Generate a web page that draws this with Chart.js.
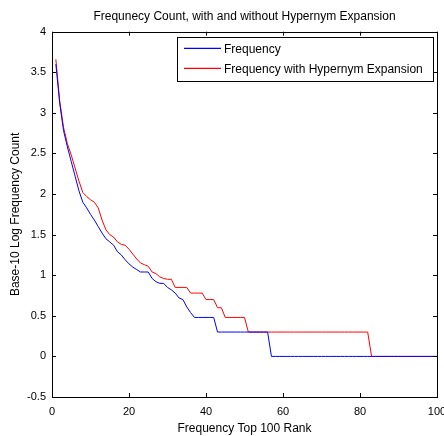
<!DOCTYPE html>
<html>
<head>
<meta charset="utf-8">
<script src="https://cdn.jsdelivr.net/npm/chart.js@4"></script>
<style>
  body { margin: 0; background: #fff; }
  canvas { display: block; }
</style>
</head>
<body>
<canvas id="chart" width="444" height="436"></canvas>
<script>
const chart_title = 'Frequnecy Count, with and without Hypernym Expansion';
const x_label = 'Frequency Top 100 Rank';
const y_label = 'Base-10 Log Frequency Count';
const series_names = ['Frequency', 'Frequency with Hypernym Expansion'];
const series_colors = ['#0000ff', '#ff0000'];
const x_ticks = [0, 20, 40, 60, 80, 100];
const y_ticks = [-0.5, 0, 0.5, 1, 1.5, 2, 2.5, 3, 3.5, 4];

// rank 1..100
const ranks = Array.from({ length: 100 }, (_, i) => i + 1);

const frequency = [
    3.60, 3.12, 2.78, 2.58, 2.40, 2.22, 2.04, 1.90, 1.83, 1.75, 1.68, 1.60, 1.52,
    1.45, 1.41, 1.37, 1.29, 1.25, 1.19, 1.14, 1.10, 1.07, 1.04, 1.04, 1.04,
    0.96, 0.92, 0.90, 0.90, 0.85, 0.82, 0.78, 0.72, 0.70, 0.61, 0.54, 0.48,
    0.48, 0.48, 0.48, 0.48, 0.48,
    0.30, 0.30, 0.30, 0.30, 0.30, 0.30, 0.30, 0.30, 0.30, 0.30, 0.30, 0.30, 0.30, 0.30,
    0, 0, 0, 0, 0, 0, 0, 0, 0, 0, 0, 0, 0, 0, 0, 0, 0, 0, 0, 0, 0, 0,
    0, 0, 0, 0, 0, 0, 0, 0, 0, 0, 0, 0, 0, 0, 0, 0, 0, 0, 0, 0, 0, 0
];

const frequency_hypernym = [
    3.66, 3.15, 2.82, 2.62, 2.48, 2.32, 2.16, 2.02, 1.97, 1.93, 1.90, 1.83, 1.68,
    1.56, 1.50, 1.47, 1.41, 1.38, 1.37, 1.32, 1.26, 1.20, 1.15, 1.13, 1.11,
    1.04, 1.02, 0.98, 0.96, 0.95, 0.95,
    0.85, 0.85, 0.85, 0.85,
    0.78, 0.78, 0.78, 0.78,
    0.70, 0.70, 0.70,
    0.60, 0.60,
    0.48, 0.48, 0.48, 0.48, 0.48, 0.48,
    0.30, 0.30, 0.30, 0.30, 0.30, 0.30, 0.30, 0.30, 0.30, 0.30, 0.30, 0.30, 0.30, 0.30, 0.30, 0.30,
    0.30, 0.30, 0.30, 0.30, 0.30, 0.30, 0.30, 0.30, 0.30, 0.30, 0.30, 0.30, 0.30, 0.30, 0.30, 0.30,
    0, 0, 0, 0, 0, 0, 0, 0, 0, 0, 0, 0, 0, 0, 0, 0, 0, 0
];

const font_family = '"Liberation Sans", Arial, Helvetica, sans-serif';

function to_points(values) {
    return values.map((v, i) => ({ x: ranks[i], y: v }));
}

// matlab style box with inward ticks + legend box top right
const matlab_axes = {
    id: 'matlab_axes',
    afterDraw(chart) {
        const ctx = chart.ctx;
        const area = chart.chartArea;
        const xs = chart.scales.x;
        const ys = chart.scales.y;
        const tick_len = 4;
        ctx.save();
        ctx.strokeStyle = '#000';
        ctx.lineWidth = 1;
        ctx.beginPath();
        x_ticks.forEach(v => {
            const px = Math.round(xs.getPixelForValue(v)) + 0.5;
            ctx.moveTo(px, area.bottom);
            ctx.lineTo(px, area.bottom - tick_len);
            ctx.moveTo(px, area.top);
            ctx.lineTo(px, area.top + tick_len);
        });
        y_ticks.forEach(v => {
            const py = Math.round(ys.getPixelForValue(v)) + 0.5;
            ctx.moveTo(area.left, py);
            ctx.lineTo(area.left + tick_len, py);
            ctx.moveTo(area.right, py);
            ctx.lineTo(area.right - tick_len, py);
        });
        ctx.stroke();
        ctx.strokeRect(Math.round(area.left) + 0.5, Math.round(area.top) + 0.5,
            Math.round(area.right - area.left), Math.round(area.bottom - area.top));

        // legend
        const box_l = 177.5, box_t = 37.5, box_w = 256, box_h = 44;
        ctx.fillStyle = '#fff';
        ctx.fillRect(box_l, box_t, box_w, box_h);
        ctx.strokeStyle = '#000';
        ctx.strokeRect(box_l, box_t, box_w, box_h);
        ctx.font = '12px ' + font_family;
        ctx.textBaseline = 'middle';
        ctx.textAlign = 'left';
        series_names.forEach((name, i) => {
            const y = 48.3 + i * 20;
            ctx.strokeStyle = series_colors[i];
            ctx.lineWidth = 1.2;
            ctx.beginPath();
            ctx.moveTo(184, y);
            ctx.lineTo(221, y);
            ctx.stroke();
            ctx.fillStyle = '#000';
            ctx.fillText(name, 224, y + 1);
        });
        ctx.restore();
    }
};

new Chart(document.getElementById('chart'), {
    type: 'line',
    data: {
        datasets: [{
            label: series_names[0],
            data: to_points(frequency),
            borderColor: series_colors[0],
            borderWidth: 1,
            pointRadius: 0,
            tension: 0,
            fill: false
        }, {
            label: series_names[1],
            data: to_points(frequency_hypernym),
            borderColor: series_colors[1],
            borderWidth: 1,
            pointRadius: 0,
            tension: 0,
            fill: false
        }]
    },
    options: {
        responsive: false,
        animation: false,
        layout: {
            padding: { left: 0, right: 7, top: 0, bottom: 0 }
        },
        plugins: {
            legend: { display: false },
            tooltip: { enabled: false },
            title: {
                display: true,
                text: chart_title,
                fullSize: false,
                color: '#000',
                font: { family: font_family, size: 12, weight: 'normal', lineHeight: 1.2 },
                padding: { top: 9, bottom: 8.3 }
            }
        },
        scales: {
            x: {
                type: 'linear',
                min: 0,
                max: 100,
                afterBuildTicks: scale => { scale.ticks = x_ticks.map(v => ({ value: v })); },
                afterFit: scale => {
                    scale.height = 39;
                    scale.paddingLeft = 0;
                    scale.paddingRight = 0;
                },
                grid: { display: false, drawTicks: false },
                border: { display: false },
                ticks: {
                    color: '#000',
                    padding: 8,
                    maxRotation: 0,
                    font: { family: font_family, size: 11 }
                },
                title: {
                    display: true,
                    text: x_label,
                    color: '#000',
                    font: { family: font_family, size: 12 },
                    padding: { top: 0, bottom: 0 }
                }
            },
            y: {
                type: 'linear',
                min: -0.5,
                max: 4,
                afterBuildTicks: scale => { scale.ticks = y_ticks.map(v => ({ value: v })); },
                afterFit: scale => {
                    scale.width = 52;
                    scale.paddingTop = 0;
                    scale.paddingBottom = 0;
                },
                grid: { display: false, drawTicks: false },
                border: { display: false },
                ticks: {
                    color: '#000',
                    padding: 6,
                    font: { family: font_family, size: 11 },
                    callback: v => String(v)
                },
                title: {
                    display: true,
                    text: y_label,
                    color: '#000',
                    font: { family: font_family, size: 12 },
                    padding: { top: 8, bottom: 0 }
                }
            }
        }
    },
    plugins: [matlab_axes]
});
</script>
</body>
</html>
